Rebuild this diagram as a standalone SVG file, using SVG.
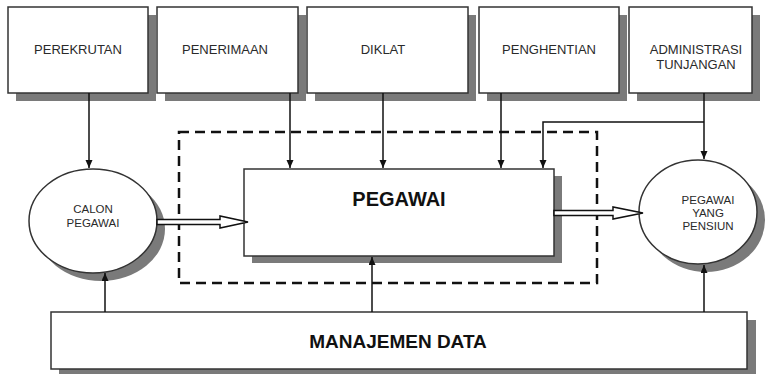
<svg xmlns="http://www.w3.org/2000/svg" width="771" height="374" viewBox="0 0 771 374">
<defs>
<style>
.box{fill:#fff;stroke:#333;stroke-width:1.5}
.sh{fill:#7a7a7a}
.t{font-family:"Liberation Sans",Arial,sans-serif;fill:#2a2a2a;text-anchor:middle}
.top{font-size:13px}
.sm{font-size:11.5px}
.big{font-size:20px;font-weight:bold;fill:#111}
.c{fill:none;stroke:#111;stroke-width:1.5}
.ha{fill:#fff;stroke:#111;stroke-width:1.5;stroke-linejoin:miter}
</style>
<marker id="ah" markerWidth="8" markerHeight="8" refX="8" refY="3.5" orient="auto" markerUnits="userSpaceOnUse">
<path d="M0,0 L8,3.5 L0,7 z" fill="#111"/>
</marker>
</defs>
<rect width="771" height="374" fill="#fff"/>

<g id="perekrutan">
<rect class="sh" x="16" y="15" width="140" height="86"/>
<rect class="box" x="8" y="7" width="140" height="86"/>
<text class="t top" x="78" y="54">PEREKRUTAN</text>
</g>
<g id="penerimaan">
<rect class="sh" x="165" y="15" width="141" height="86"/>
<rect class="box" x="157" y="7" width="141" height="86"/>
<text class="t top" x="225" y="54">PENERIMAAN</text>
</g>
<g id="diklat">
<rect class="sh" x="315" y="15" width="161" height="86"/>
<rect class="box" x="307" y="7" width="161" height="86"/>
<text class="t top" x="383" y="54">DIKLAT</text>
</g>
<g id="penghentian">
<rect class="sh" x="487" y="15" width="140" height="86"/>
<rect class="box" x="479" y="7" width="140" height="86"/>
<text class="t top" x="549" y="54">PENGHENTIAN</text>
</g>
<g id="administrasi">
<rect class="sh" x="637" y="15" width="123" height="86"/>
<rect class="box" x="629" y="7" width="123" height="86"/>
<text class="t top" x="696" y="54">ADMINISTRASI</text>
<text class="t top" x="696" y="69">TUNJANGAN</text>
</g>

<g id="calon">
<ellipse class="sh" cx="101" cy="229" rx="64" ry="52"/>
<ellipse class="box" cx="93" cy="221" rx="64" ry="52"/>
<text class="t sm" x="93" y="213">CALON</text>
<text class="t sm" x="93" y="227">PEGAWAI</text>
</g>

<g id="pegawai">
<rect class="sh" x="252" y="176" width="310" height="87"/>
<rect class="box" x="244" y="169" width="310" height="87"/>
<text class="t big" x="399" y="206">PEGAWAI</text>
</g>

<g id="pensiun">
<ellipse class="sh" cx="706" cy="220" rx="59" ry="52"/>
<ellipse class="box" cx="698" cy="212" rx="59" ry="52"/>
<text class="t sm" x="708" y="204">PEGAWAI</text>
<text class="t sm" x="708" y="217">YANG</text>
<text class="t sm" x="708" y="230">PENSIUN</text>
</g>

<g id="manajemen">
<rect class="sh" x="59" y="320" width="697" height="60"/>
<rect class="box" x="51" y="312" width="696" height="57"/>
<text class="t big" x="398" y="348" style="font-size:19px">MANAJEMEN DATA</text>
</g>

<g id="boundary">
<rect x="179" y="132" width="418" height="151" fill="none" stroke="#111" stroke-width="2.5" stroke-dasharray="10,6"/>
</g>

<g id="connectors">
<line class="c" x1="89" y1="93" x2="89" y2="168" marker-end="url(#ah)"/>
<line class="c" x1="290" y1="93" x2="290" y2="168" marker-end="url(#ah)"/>
<line class="c" x1="383" y1="93" x2="383" y2="168" marker-end="url(#ah)"/>
<line class="c" x1="501" y1="93" x2="501" y2="168" marker-end="url(#ah)"/>
<line class="c" x1="704" y1="93" x2="704" y2="159" marker-end="url(#ah)"/>
<polyline class="c" points="704,122 543,122 543,168" marker-end="url(#ah)"/>
<line class="c" x1="105" y1="312" x2="105" y2="273" marker-end="url(#ah)"/>
<line class="c" x1="372" y1="312" x2="372" y2="257" marker-end="url(#ah)"/>
<line class="c" x1="704" y1="312" x2="704" y2="265" marker-end="url(#ah)"/>
<polygon class="ha" points="157,219.5 220,219.5 220,216 248,222 220,228 220,224.5 157,224.5"/>
<polygon class="ha" points="554,210.5 613,210.5 613,207 643,213 613,219 613,215.5 554,215.5"/>
</g>
</svg>
